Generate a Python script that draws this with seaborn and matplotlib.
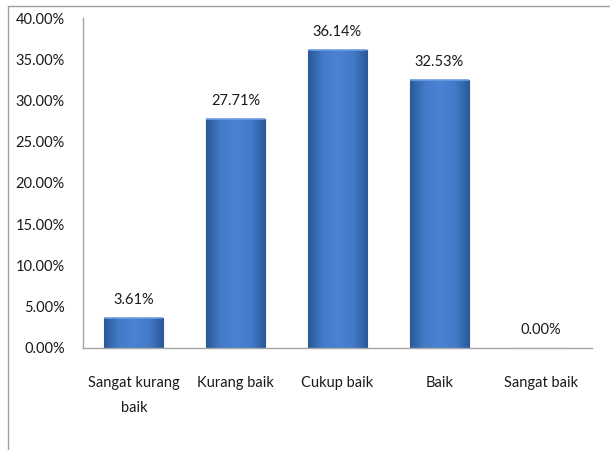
import numpy as np
import pandas as pd
import seaborn as sns
import matplotlib
matplotlib.use("Agg")
import matplotlib.pyplot as plt
from matplotlib.lines import Line2D
from matplotlib.colors import LinearSegmentedColormap

categories = ["Sangat kurang\nbaik", "Kurang baik", "Cukup baik", "Baik", "Sangat baik"]
values = [3.61, 27.71, 36.14, 32.53, 0.00]
yticks = [0, 5, 10, 15, 20, 25, 30, 35, 40]

sns.set_theme(style="white")
plt.rcParams['font.family'] = ['Lato', 'DejaVu Sans']

df = pd.DataFrame({"cat": categories, "val": values})

fig = plt.figure(figsize=(6.1, 4.5), dpi=100)
ax = fig.add_axes([0.136, 0.2267, 0.834, 0.7333])
sns.barplot(data=df, x="cat", y="val", color="#3a6db8", width=0.58, ax=ax,
            saturation=1, edgecolor="#28508a", linewidth=0.8)

cmap = LinearSegmentedColormap.from_list("b", ["#2a5898", "#437bc9", "#4b83d3", "#437bc9", "#2a5898"])
grad = np.linspace(0, 1, 256).reshape(1, -1)
for p in ax.patches:
    h = p.get_height()
    if h <= 0:
        continue
    x0 = p.get_x(); w = p.get_width()
    im = ax.imshow(grad, aspect="auto", cmap=cmap, extent=[x0, x0 + w, 0, h], zorder=p.get_zorder() + 0.1)
    im.set_clip_path(p)
    ax.plot([x0, x0 + w], [h, h], color="#6d9fe0", lw=1.2, zorder=p.get_zorder() + 0.2, solid_capstyle="butt")

for i, v in enumerate(values):
    ax.annotate(f"{v:.2f}%", (i, v), xytext=(0, 8), textcoords="offset points",
                ha="center", va="bottom", fontsize=10.5, color="#1a1a1a")

ax.set_ylim(0, 40)
ax.set_xlim(-0.5, 4.5)
ax.set_yticks(yticks)
ax.set_yticklabels([f"{t:.2f}%" for t in yticks])
ax.set_xticks(range(len(categories)))
ax.set_xticklabels(categories)
ax.set_xlabel("")
ax.set_ylabel("")
ax.tick_params(axis="y", length=0, pad=13, labelsize=10.5, labelcolor="#1a1a1a")
ax.tick_params(axis="x", length=0, pad=20, labelsize=10.5, labelcolor="#1a1a1a")
for s in ["top", "right"]:
    ax.spines[s].set_visible(False)
for s in ["left", "bottom"]:
    ax.spines[s].set_color("#a6a6a6")
    ax.spines[s].set_linewidth(1.0)

fig.add_artist(Line2D([8 / 610, 8 / 610], [0, 1 - 6 / 450], transform=fig.transFigure, color="#a0a0a0", lw=1))
fig.add_artist(Line2D([8 / 610, 1], [1 - 6 / 450, 1 - 6 / 450], transform=fig.transFigure, color="#a0a0a0", lw=1))

fig.canvas.draw()
for t in ax.xaxis.get_major_ticks():
    t.label1.set_linespacing(2.0)

fig.savefig("out.png", dpi=100)
